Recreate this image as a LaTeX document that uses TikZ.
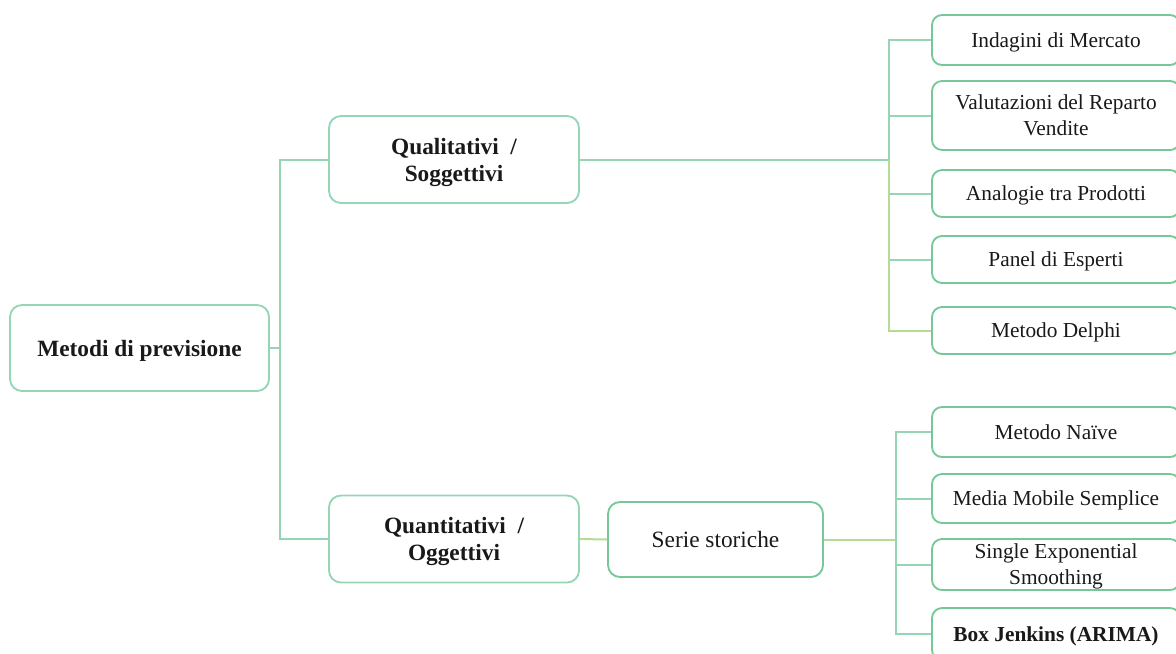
\documentclass[tikz,border=0pt]{standalone}
\usepackage{fontspec}
\setmainfont{Liberation Serif}
\definecolor{boxgreen}{RGB}{118,200,152}
\definecolor{boxmint}{RGB}{150,214,182}
\definecolor{linemint}{RGB}{150,212,180}
\definecolor{lineolive}{RGB}{180,220,150}
\tikzset{
  base/.style={draw, rounded corners=9pt, line width=1.4pt, align=center, inner sep=0pt, text=black!90, text depth=0pt},
  mainbox/.style={base, draw=boxmint, font=\fontsize{17.5}{20.25}\selectfont\bfseries, minimum width=187.5pt, minimum height=65.25pt},
  rootbox/.style={base, draw=boxmint, font=\fontsize{17.5}{20.25}\selectfont\bfseries, minimum width=194.25pt, minimum height=64.5pt},
  seriesbox/.style={base, draw=boxgreen, font=\fontsize{17.5}{20.25}\selectfont, minimum width=161.25pt, minimum height=56.25pt},
  leaf/.style={base, draw=boxgreen, rounded corners=7.5pt, font=\fontsize{16}{19.5}\selectfont, minimum width=186pt},
  conn/.style={draw=linemint, line width=1.5pt},
  connolive/.style={draw=lineolive, line width=1.5pt}
}
\begin{document}
\begin{tikzpicture}[x=0.75pt, y=-0.75pt]
  \useasboundingbox (0,0) rectangle (1176,653);

  % root and first level
  \node[rootbox] (root) at (139.5,348) {Metodi di previsione};
  \node[mainbox] (qual) at (454,159.5) {Qualitativi~~/\\Soggettivi};
  \node[mainbox] (quant) at (454,539) {Quantitativi~~/\\Oggettivi};
  \node[seriesbox] (serie) at (715.5,539.5) {Serie storiche};

  % qualitative methods
  \node[leaf, minimum height=37.5pt]  (l1) at (1056,40)    {Indagini di Mercato};
  \node[leaf, minimum height=51.75pt] (l2) at (1056,115.5) {Valutazioni del Reparto\\Vendite};
  \node[leaf, minimum height=35.25pt] (l3) at (1056,193.5) {Analogie tra Prodotti};
  \node[leaf, minimum height=35.25pt] (l4) at (1056,259.5) {Panel di Esperti};
  \node[leaf, minimum height=35.25pt] (l5) at (1056,330.5) {Metodo Delphi};

  % time series methods
  \node[leaf, minimum height=37.5pt]  (m1) at (1056,432)   {Metodo Naïve};
  \node[leaf, minimum height=36.75pt] (m2) at (1056,498.5) {Media Mobile Semplice};
  \node[leaf, minimum height=38.25pt] (m3) at (1056,564.5) {Single Exponential\\Smoothing};
  \node[leaf, minimum height=39pt, font=\fontsize{16}{19.5}\selectfont\bfseries] (m4) at (1056,634) {Box Jenkins (ARIMA)};

  % junction points
  \coordinate (j1) at (280,348);
  \coordinate (j2) at (889,159.5);
  \coordinate (j3) at (896,539.5);

  % connectors from the root
  \draw[conn] (root.east) -- (j1);
  \draw[conn] (qual.west) -| (j1);
  \draw[conn] (quant.west) -| (j1);

  % qualitative branch
  \draw[conn] (qual.east) -- (j2);
  \foreach \n in {l1,l2,l3,l4} \draw[conn] (\n.west) -| (j2);
  \draw[connolive] (l5.west) -| (j2);

  % quantitative branch
  \draw[connolive] (quant.east) -- (serie.west);
  \draw[connolive] (serie.east) -- (j3);
  \foreach \n in {m1,m2,m3,m4} \draw[conn] (\n.west) -| (j3);
\end{tikzpicture}
\end{document}
